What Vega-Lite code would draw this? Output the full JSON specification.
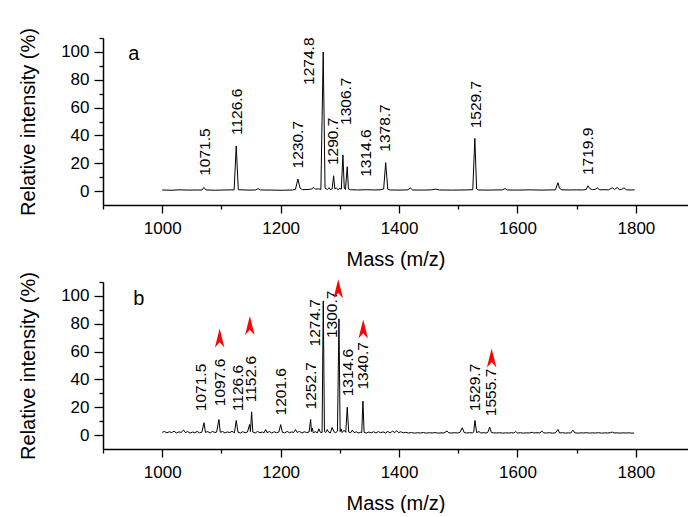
{
  "$schema": "https://vega.github.io/schema/vega-lite/v6.json",
  "padding": {"left": 18, "top": 27, "right": 0, "bottom": 0},
  "spacing": 2,
  "config": {
    "font": "Liberation Sans",
    "view": {"stroke": null},
    "axis": {
      "grid": false,
      "domainColor": "black",
      "domainWidth": 1.5,
      "tickColor": "black",
      "tickWidth": 1.3,
      "labelColor": "black",
      "titleColor": "black",
      "labelFont": "Liberation Sans",
      "titleFont": "Liberation Sans",
      "labelFontSize": 17,
      "titleFontSize": 20,
      "titleFontWeight": "normal",
      "labelOverlap": false,
      "labelFlush": false
    }
  },
  "datasets": {
    "specA": [
      {"m":1000,"i":0.8},{"m":1015,"i":0.6},{"m":1030,"i":0.9},{"m":1045,"i":0.7},{"m":1060,"i":0.8},{"m":1067,"i":0.7},{"m":1070.4,"i":2.6},{"m":1074,"i":0.8},{"m":1090,"i":0.6},{"m":1105,"i":0.8},{"m":1121.5,"i":0.9},{"m":1125,"i":32.4},{"m":1128.5,"i":1.0},{"m":1145,"i":0.7},{"m":1158,"i":0.8},{"m":1162,"i":1.8},{"m":1166,"i":0.8},{"m":1185,"i":0.7},{"m":1205,"i":0.6},{"m":1220,"i":0.8},{"m":1225,"i":1.2},{"m":1229.2,"i":8.6},{"m":1233,"i":2.0},{"m":1237,"i":1.0},{"m":1248,"i":1.2},{"m":1252,"i":1.5},{"m":1256,"i":2.6},{"m":1259,"i":1.3},{"m":1264,"i":1.6},{"m":1268,"i":1.2},{"m":1271.9,"i":100},{"m":1275,"i":2.0},{"m":1279,"i":1.2},{"m":1282,"i":2.4},{"m":1284,"i":1.0},{"m":1287,"i":1.6},{"m":1289.5,"i":11},{"m":1291.5,"i":1.6},{"m":1294,"i":2.2},{"m":1297,"i":1.0},{"m":1300,"i":2.0},{"m":1302.5,"i":1.4},{"m":1305.2,"i":26},{"m":1307.5,"i":2.0},{"m":1309.5,"i":1.2},{"m":1312.5,"i":17.5},{"m":1314.5,"i":1.5},{"m":1318,"i":1.0},{"m":1330,"i":0.8},{"m":1345,"i":1.0},{"m":1360,"i":0.8},{"m":1370,"i":1.0},{"m":1374,"i":1.5},{"m":1377.4,"i":20.4},{"m":1381,"i":1.2},{"m":1385,"i":0.8},{"m":1400,"i":0.7},{"m":1415,"i":0.9},{"m":1419,"i":2.2},{"m":1423,"i":0.8},{"m":1440,"i":0.7},{"m":1455,"i":0.9},{"m":1462,"i":1.4},{"m":1468,"i":0.8},{"m":1490,"i":0.7},{"m":1510,"i":0.8},{"m":1524.5,"i":1.0},{"m":1528,"i":37.9},{"m":1531,"i":1.5},{"m":1534,"i":0.8},{"m":1550,"i":0.7},{"m":1575,"i":0.9},{"m":1579,"i":1.8},{"m":1583,"i":0.8},{"m":1600,"i":0.7},{"m":1620,"i":0.9},{"m":1640,"i":0.7},{"m":1664,"i":0.9},{"m":1668.4,"i":6.0},{"m":1671,"i":2.0},{"m":1675,"i":0.9},{"m":1690,"i":0.8},{"m":1700,"i":0.9},{"m":1710,"i":0.8},{"m":1716,"i":1.2},{"m":1719,"i":3.8},{"m":1722,"i":1.8},{"m":1727,"i":1.0},{"m":1731,"i":1.2},{"m":1735,"i":2.2},{"m":1739,"i":0.9},{"m":1748,"i":1.0},{"m":1754,"i":0.9},{"m":1760,"i":2.4},{"m":1764,"i":1.2},{"m":1768.6,"i":2.6},{"m":1772,"i":1.0},{"m":1776,"i":1.2},{"m":1780,"i":2.3},{"m":1784,"i":0.9},{"m":1792,"i":0.8},{"m":1798,"i":0.9}
    ],
    "specB": [
      {"m":1000,"i":2.0},{"m":1004,"i":2.6},{"m":1008,"i":1.6},{"m":1012,"i":2.4},{"m":1016,"i":1.8},{"m":1020,"i":2.8},{"m":1024,"i":1.5},{"m":1028,"i":2.3},{"m":1032,"i":2.0},{"m":1036,"i":3.6},{"m":1039,"i":1.8},{"m":1043,"i":2.5},{"m":1047,"i":1.4},{"m":1051,"i":2.2},{"m":1055,"i":1.7},{"m":1059,"i":2.6},{"m":1063,"i":1.6},{"m":1067,"i":2.1},{"m":1070.6,"i":8.9},{"m":1073,"i":2.0},{"m":1077,"i":2.5},{"m":1081,"i":1.5},{"m":1085,"i":2.7},{"m":1089,"i":1.8},{"m":1092,"i":2.2},{"m":1095.8,"i":11.2},{"m":1098,"i":2.0},{"m":1102,"i":2.6},{"m":1106,"i":1.5},{"m":1110,"i":2.3},{"m":1114,"i":1.8},{"m":1118,"i":2.7},{"m":1122,"i":1.6},{"m":1125,"i":10.5},{"m":1128,"i":2.1},{"m":1132,"i":1.5},{"m":1136,"i":2.4},{"m":1140,"i":1.7},{"m":1144,"i":2.2},{"m":1147.6,"i":7.6},{"m":1149,"i":2.5},{"m":1151,"i":16.7},{"m":1153,"i":2.2},{"m":1157,"i":1.5},{"m":1161,"i":2.6},{"m":1165,"i":1.7},{"m":1169,"i":2.2},{"m":1172,"i":1.6},{"m":1174.7,"i":4.0},{"m":1177,"i":1.8},{"m":1181,"i":2.5},{"m":1185,"i":1.5},{"m":1189,"i":2.4},{"m":1193,"i":1.7},{"m":1197,"i":2.2},{"m":1200,"i":7.5},{"m":1203,"i":2.0},{"m":1207,"i":1.6},{"m":1211,"i":2.6},{"m":1215,"i":1.7},{"m":1219,"i":2.3},{"m":1222,"i":1.8},{"m":1225,"i":4.0},{"m":1228,"i":1.9},{"m":1232,"i":2.6},{"m":1236,"i":1.5},{"m":1240,"i":2.4},{"m":1244,"i":1.8},{"m":1248,"i":2.2},{"m":1250.7,"i":11.2},{"m":1252,"i":2.5},{"m":1253.5,"i":5.0},{"m":1255,"i":1.8},{"m":1259,"i":2.4},{"m":1262,"i":1.6},{"m":1264.7,"i":4.5},{"m":1267,"i":2.0},{"m":1270,"i":1.8},{"m":1272,"i":96.4},{"m":1274,"i":2.5},{"m":1276,"i":1.8},{"m":1278.7,"i":4.0},{"m":1281,"i":2.2},{"m":1284,"i":1.5},{"m":1287,"i":5.5},{"m":1290,"i":2.4},{"m":1293,"i":1.7},{"m":1296,"i":2.8},{"m":1298.5,"i":83.5},{"m":1300.5,"i":2.5},{"m":1302,"i":4.5},{"m":1304,"i":1.8},{"m":1307,"i":3.5},{"m":1310,"i":2.0},{"m":1312.5,"i":20.0},{"m":1315,"i":2.2},{"m":1318,"i":1.6},{"m":1321,"i":3.5},{"m":1324,"i":1.8},{"m":1328,"i":2.3},{"m":1332,"i":1.5},{"m":1335,"i":2.0},{"m":1337,"i":1.7},{"m":1339,"i":24.4},{"m":1341,"i":2.0},{"m":1345,"i":1.5},{"m":1349,"i":2.2},{"m":1353,"i":1.6},{"m":1357,"i":2.4},{"m":1361,"i":1.5},{"m":1365,"i":2.5},{"m":1369,"i":1.7},{"m":1373,"i":2.3},{"m":1377,"i":1.5},{"m":1381,"i":2.6},{"m":1385,"i":1.6},{"m":1389,"i":2.8},{"m":1393,"i":1.8},{"m":1396,"i":3.2},{"m":1399,"i":1.7},{"m":1403,"i":2.4},{"m":1407,"i":1.6},{"m":1411,"i":2.0},{"m":1416,"i":1.5},{"m":1421,"i":1.8},{"m":1426,"i":1.4},{"m":1431,"i":1.7},{"m":1436,"i":1.5},{"m":1441,"i":1.8},{"m":1446,"i":1.4},{"m":1451,"i":1.7},{"m":1456,"i":1.5},{"m":1461,"i":1.8},{"m":1466,"i":1.4},{"m":1471,"i":1.6},{"m":1476,"i":1.5},{"m":1481,"i":3.0},{"m":1484,"i":1.6},{"m":1489,"i":1.5},{"m":1494,"i":1.7},{"m":1499,"i":1.5},{"m":1503,"i":2.0},{"m":1506.8,"i":5.3},{"m":1510,"i":1.8},{"m":1514,"i":1.5},{"m":1519,"i":1.7},{"m":1524,"i":1.6},{"m":1526,"i":2.0},{"m":1528.2,"i":10.5},{"m":1531,"i":1.8},{"m":1535,"i":2.5},{"m":1538,"i":1.5},{"m":1542,"i":1.7},{"m":1547,"i":1.5},{"m":1550,"i":2.0},{"m":1553,"i":5.7},{"m":1556,"i":1.8},{"m":1560,"i":1.6},{"m":1565,"i":1.5},{"m":1570,"i":1.7},{"m":1575,"i":1.4},{"m":1580,"i":1.6},{"m":1585,"i":1.5},{"m":1590,"i":1.7},{"m":1594,"i":1.5},{"m":1597,"i":2.5},{"m":1600,"i":1.5},{"m":1605,"i":1.7},{"m":1610,"i":1.4},{"m":1615,"i":1.6},{"m":1620,"i":1.5},{"m":1625,"i":2.0},{"m":1628,"i":1.5},{"m":1633,"i":1.7},{"m":1638,"i":1.5},{"m":1641,"i":3.0},{"m":1644,"i":1.6},{"m":1649,"i":1.5},{"m":1654,"i":1.7},{"m":1659,"i":1.4},{"m":1664,"i":1.6},{"m":1668.4,"i":4.0},{"m":1671,"i":1.5},{"m":1676,"i":1.7},{"m":1681,"i":1.4},{"m":1686,"i":1.6},{"m":1690,"i":1.5},{"m":1693.7,"i":3.5},{"m":1697,"i":1.6},{"m":1702,"i":1.4},{"m":1707,"i":1.6},{"m":1712,"i":1.5},{"m":1717,"i":1.7},{"m":1722,"i":1.4},{"m":1727,"i":1.6},{"m":1732,"i":1.5},{"m":1737,"i":1.7},{"m":1742,"i":1.4},{"m":1747,"i":1.6},{"m":1752,"i":1.5},{"m":1757,"i":1.7},{"m":1760,"i":2.2},{"m":1763,"i":1.5},{"m":1768,"i":1.6},{"m":1773,"i":1.4},{"m":1778,"i":1.6},{"m":1783,"i":1.5},{"m":1788,"i":1.6},{"m":1793,"i":1.4},{"m":1797,"i":1.5}
    ],
    "labA": [
      {"t":"1071.5","m":1072,"i":11},{"t":"1126.6","m":1125.6,"i":40.3},{"t":"1230.7","m":1228.8,"i":16.3},{"t":"1274.8","m":1247.8,"i":76.3},{"t":"1290.7","m":1288.3,"i":18.7},{"t":"1306.7","m":1310.3,"i":47.5},{"t":"1314.6","m":1344.9,"i":10.3},{"t":"1378.7","m":1376.7,"i":28.3},{"t":"1529.7","m":1529.4,"i":45.1},{"t":"1719.9","m":1718.7,"i":11.5}
    ],
    "labB": [
      {"t":"1071.5","m":1065.2,"i":17.2},{"t":"1097.6","m":1097.1,"i":20.8},{"t":"1126.6","m":1127.5,"i":17.2},{"t":"1152.6","m":1150.2,"i":23.6},{"t":"1201.6","m":1200.8,"i":14.1},{"t":"1252.7","m":1251.7,"i":18.4},{"t":"1274.7","m":1257.4,"i":63.7},{"t":"1300.7","m":1287.2,"i":69.7},{"t":"1314.6","m":1313.3,"i":27.9},{"t":"1340.7","m":1339.9,"i":32.7},{"t":"1529.7","m":1528.7,"i":17.2},{"t":"1555.7","m":1554.7,"i":13.6}
    ],
    "arrB": [
      {"m":1097,"i":69.7},{"m":1148,"i":78.7},{"m":1297.3,"i":105.2},{"m":1339.5,"i":76.2},{"m":1556.4,"i":55.4}
    ],
    "panA": [{"t":"a","m":952,"i":94.2}],
    "panB": [{"t":"b","m":960.6,"i":93.6}]
  },
  "vconcat": [
    {
      "width": 585,
      "height": 167,
      "encoding": {
        "x": {"field": "m", "type": "quantitative",
          "scale": {"domain": [900, 1888], "nice": false, "zero": false},
          "axis": {"title": "Mass (m/z)", "values": [900,1000,1100,1200,1300,1400,1500,1600,1700,1800], "format": "d",
            "labelExpr": "datum.value % 200 === 0 ? datum.label : ''",
            "tickSize": {"condition": {"test": "datum.value % 200 === 0", "value": 8}, "value": 4},
            "labelPadding": 7, "titlePadding": 13}},
        "y": {"field": "i", "type": "quantitative",
          "scale": {"domain": [-10, 110], "nice": false, "zero": false},
          "axis": {"title": "Relative intensity (%)", "values": [0,10,20,30,40,50,60,70,80,90,100,110], "format": "d",
            "labelExpr": "datum.value % 20 === 0 ? datum.label : ''",
            "tickSize": {"condition": {"test": "datum.value % 20 === 0", "value": 9}, "value": 4},
            "labelPadding": 5, "titlePadding": 22}}
      },
      "layer": [
        {"data": {"name": "specA"}, "mark": {"type": "line", "color": "black", "strokeWidth": 1}},
        {"data": {"name": "labA"}, "mark": {"type": "text", "angle": 270, "align": "left", "baseline": "middle", "fontSize": 15.5, "color": "black"},
          "encoding": {"text": {"field": "t"}}},
        {"data": {"name": "panA"}, "mark": {"type": "text", "align": "center", "baseline": "alphabetic", "fontSize": 20, "color": "black"},
          "encoding": {"text": {"field": "t"}}}
      ]
    },
    {
      "width": 585,
      "height": 167,
      "encoding": {
        "x": {"field": "m", "type": "quantitative",
          "scale": {"domain": [900, 1888], "nice": false, "zero": false},
          "axis": {"title": "Mass (m/z)", "values": [900,1000,1100,1200,1300,1400,1500,1600,1700,1800], "format": "d",
            "labelExpr": "datum.value % 200 === 0 ? datum.label : ''",
            "tickSize": {"condition": {"test": "datum.value % 200 === 0", "value": 8}, "value": 4},
            "labelPadding": 7, "titlePadding": 13}},
        "y": {"field": "i", "type": "quantitative",
          "scale": {"domain": [-10, 110], "nice": false, "zero": false},
          "axis": {"title": "Relative intensity (%)", "values": [0,10,20,30,40,50,60,70,80,90,100,110], "format": "d",
            "labelExpr": "datum.value % 20 === 0 ? datum.label : ''",
            "tickSize": {"condition": {"test": "datum.value % 20 === 0", "value": 9}, "value": 4},
            "labelPadding": 5, "titlePadding": 22}}
      },
      "layer": [
        {"data": {"name": "specB"}, "mark": {"type": "line", "color": "black", "strokeWidth": 1}},
        {"data": {"name": "labB"}, "mark": {"type": "text", "angle": 270, "align": "left", "baseline": "middle", "fontSize": 15.5, "color": "black"},
          "encoding": {"text": {"field": "t"}}},
        {"data": {"name": "arrB"}, "mark": {"type": "point", "shape": "M0,-1L0.5,1L0,0.45L-0.5,1Z", "size": 361, "filled": true, "color": "#ff0000", "opacity": 1, "strokeWidth": 0}},
        {"data": {"name": "panB"}, "mark": {"type": "text", "align": "center", "baseline": "alphabetic", "fontSize": 20, "color": "black"},
          "encoding": {"text": {"field": "t"}}}
      ]
    }
  ]
}
